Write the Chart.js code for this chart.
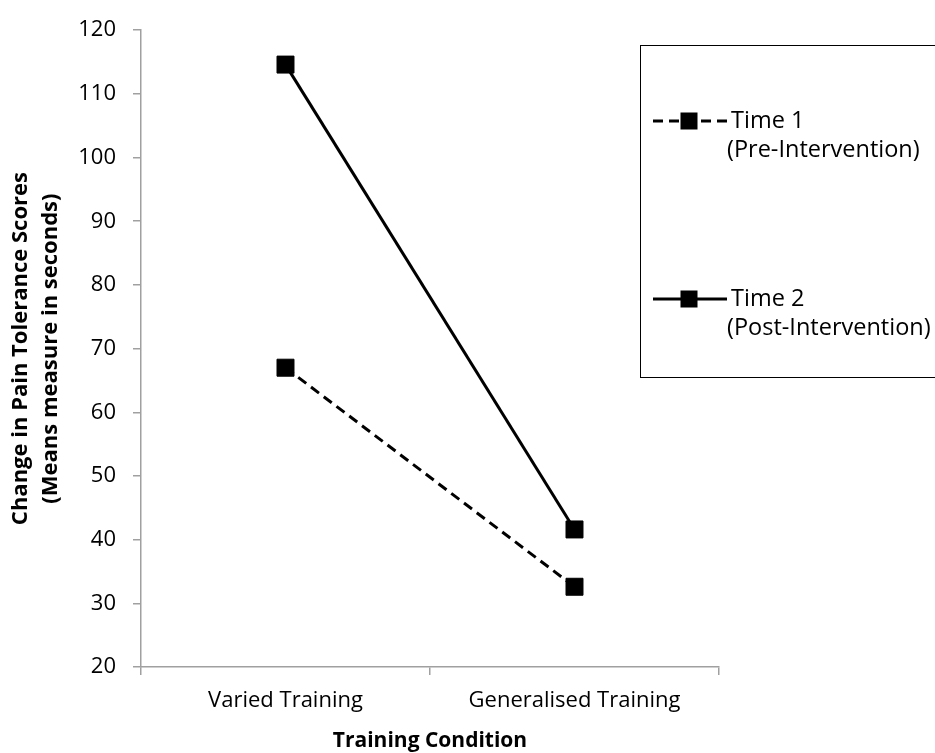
<!DOCTYPE html>
<html>
<head>
<meta charset="utf-8">
<script src="https://cdn.jsdelivr.net/npm/chart.js@4/dist/chart.umd.min.js"></script>
<style>
  html, body { margin: 0; padding: 0; background: #fff; }
  #wrap { width: 935px; height: 753px; position: relative; }
</style>
</head>
<body>
<div id="wrap"><canvas id="c" width="935" height="753"></canvas></div>
<script>
const categories = ['Varied Training', 'Generalised Training'];
const time1Values = [67.0, 32.6];
const time2Values = [114.6, 41.6];
const seriesNames = [['Time 1', '(Pre-Intervention)'], ['Time 2', '(Post-Intervention)']];
const yTicks = [20, 30, 40, 50, 60, 70, 80, 90, 100, 110, 120];
const xTitle = 'Training Condition';
const yTitle = ['Change in Pain Tolerance Scores', '(Means measure in seconds)'];

const FONT = "'Open Sans', sans-serif";
const AXIS = '#a0a0a0';

const legendBox = {
  id: 'legendBox',
  afterDraw(chart) {
    const ctx = chart.ctx;
    ctx.save();
    ctx.strokeStyle = '#000';
    ctx.lineWidth = 1;
    ctx.strokeRect(640.5, 45.5, 400, 332);
    const rows = [121, 299];
    chart.data.datasets.forEach((ds, i) => {
      const y = rows[i];
      ctx.save();
      ctx.strokeStyle = ds.borderColor;
      ctx.lineWidth = ds.borderWidth;
      ctx.setLineDash(ds.borderDash || []);
      ctx.beginPath();
      ctx.moveTo(653, y);
      ctx.lineTo(727, y);
      ctx.stroke();
      ctx.restore();
      const s = 17;
      ctx.fillStyle = ds.pointBackgroundColor;
      ctx.fillRect(689 - s / 2, y - s / 2, s, s);
      ctx.fillStyle = '#000';
      ctx.font = '23.5px ' + FONT;
      ctx.textBaseline = 'middle';
      ctx.textAlign = 'left';
      const lines = seriesNames[i];
      lines.forEach((t, k) => ctx.fillText(t, k === 0 ? 731 : 727, y + k * 29));
    });
    ctx.restore();
  }
};

new Chart(document.getElementById('c'), {
  type: 'line',
  data: {
    labels: categories,
    datasets: [
      {
        label: 'Time 1 (Pre-Intervention)',
        data: time1Values,
        borderColor: '#000',
        backgroundColor: '#000',
        borderWidth: 3,
        borderDash: [10, 6],
        pointStyle: 'rect',
        pointRadius: 12,
        pointBorderWidth: 1,
        pointBackgroundColor: '#000',
        pointBorderColor: '#000',
        tension: 0
      },
      {
        label: 'Time 2 (Post-Intervention)',
        data: time2Values,
        borderColor: '#000',
        backgroundColor: '#000',
        borderWidth: 3,
        pointStyle: 'rect',
        pointRadius: 12,
        pointBorderWidth: 1,
        pointBackgroundColor: '#000',
        pointBorderColor: '#000',
        tension: 0
      }
    ]
  },
  options: {
    responsive: false,
    animation: false,
    devicePixelRatio: 1,
    layout: { padding: { top: 25, right: 216, bottom: 0, left: 0 } },
    plugins: {
      legend: { display: false },
      tooltip: { enabled: false }
    },
    scales: {
      x: {
        type: 'category',
        offset: true,
        grid: { display: true, offset: true, drawOnChartArea: false, drawTicks: true, tickLength: 8, color: AXIS, lineWidth: 1.5 },
        border: { display: true, color: AXIS, width: 1.5 },
        ticks: { color: '#000', font: { family: FONT, size: 22 }, padding: 13, maxRotation: 0 },
        title: { display: true, text: xTitle, color: '#000', font: { family: FONT, size: 21, weight: 'bold', lineHeight: 1.15 }, padding: { top: 0, bottom: 0 } },
        afterFit(scale) { scale.height = 86; }
      },
      y: {
        min: 20,
        max: 120,
        afterBuildTicks(scale) { scale.ticks = yTicks.map(v => ({ value: v })); },
        grid: { display: true, drawOnChartArea: false, drawTicks: true, tickLength: 8, color: AXIS, lineWidth: 1.5 },
        border: { display: true, color: AXIS, width: 1.5 },
        ticks: { color: '#000', font: { family: FONT, size: 22 }, padding: 17 },
        title: { display: true, text: yTitle, color: '#000', font: { family: FONT, size: 22, weight: 'bold', lineHeight: 1.4 }, padding: { top: 5, bottom: 0 } },
        afterFit(scale) { scale.width = 141; }
      }
    }
  },
  plugins: [legendBox]
});
</script>
</body>
</html>
